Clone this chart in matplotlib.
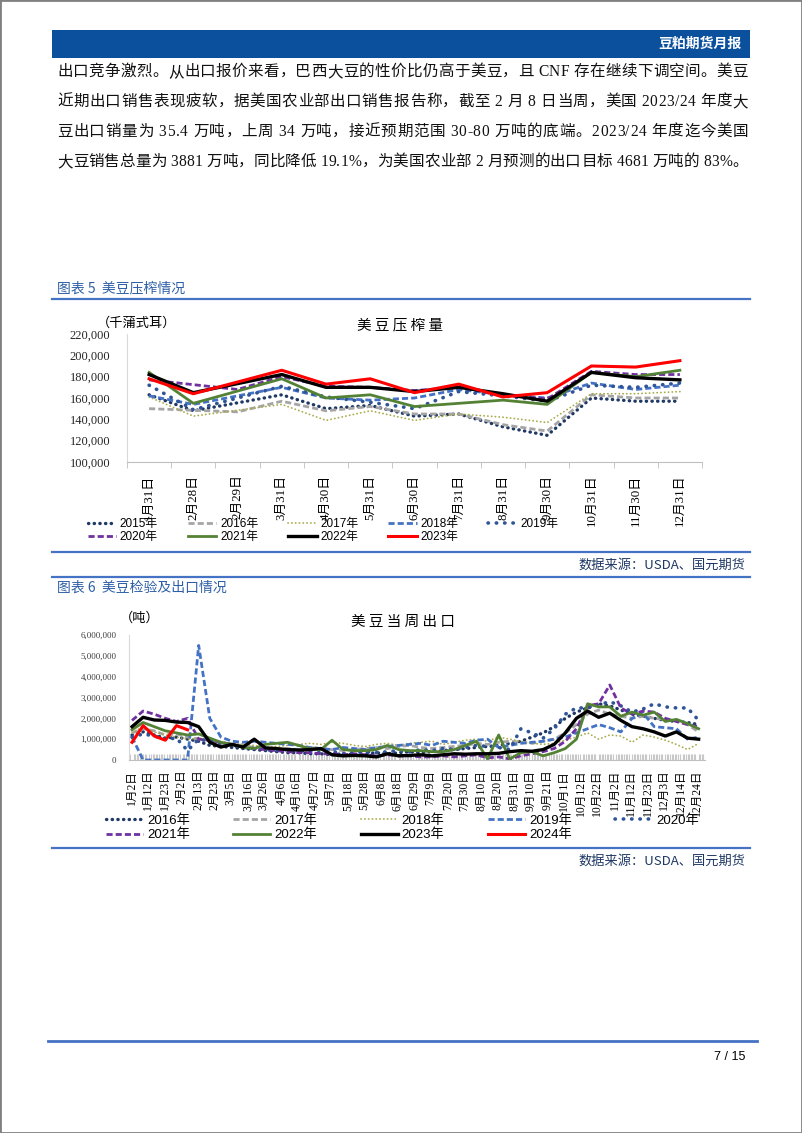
import numpy as np
import pandas as pd
import matplotlib
matplotlib.use('Agg')
import matplotlib.pyplot as plt
from matplotlib.patches import Rectangle
from matplotlib.lines import Line2D
from matplotlib.ticker import FuncFormatter

W, H = 802, 1133
SERIF = ['Liberation Serif', 'Noto Sans CJK SC']
SANS = ['Liberation Sans', 'Noto Sans CJK SC']
CJK = ['Noto Sans CJK SC', 'DejaVu Sans']

# ---------------------------------------------------------
# texte de la page
# ---------------------------------------------------------
body_lines = [
    "出口竞争激烈。从出口报价来看，巴西大豆的性价比仍高于美豆，且 CNF 存在继续下调空间。美豆",
    "近期出口销售表现疲软，据美国农业部出口销售报告称，截至 2 月 8 日当周，美国 2023/24 年度大",
    "豆出口销量为 35.4 万吨，上周 34 万吨，接近预期范围 30-80 万吨的底端。2023/24 年度迄今美国",
    "大豆销售总量为 3881 万吨，同比降低 19.1%，为美国农业部 2 月预测的出口目标 4681 万吨的 83%。",
]

# ---------------------------------------------------------
# graphique 5 : crush mensuel (千蒲式耳)
# ---------------------------------------------------------
crush_months = ['1月31日', '2月28日', '2月29日', '3月31日', '4月30日', '5月31日', '6月30日',
                '7月31日', '8月31日', '9月30日', '10月31日', '11月30日', '12月31日']
nan = np.nan
crush_2015 = [163000, 148000, nan, 163000, 150000, 153000, 143000, 145000, 133000, 125000, 160000, 157000, 157000]
crush_2016 = [150000, nan, 147000, 157000, 148000, 152000, 145000, 145000, 135000, 129000, 163000, 160000, 160000]
crush_2017 = [161000, 143000, nan, 154000, 139000, 148000, 139000, 145000, 142000, 137000, 164000, 164000, 166000]
crush_2018 = [162000, 154000, nan, 170000, 160000, 158000, 160000, 168000, 163000, 160000, 174000, 168000, 172000]
crush_2019 = [172000, 149000, nan, 171000, 161000, 156000, 150000, 166000, 162000, 157000, 172000, 170000, 174000]
crush_2020 = [177000, nan, 168000, 180000, 171000, 170000, 167000, 170000, 163000, 159000, 185000, 182000, 182000]
crush_2021 = [184000, 155000, nan, 178000, 160000, 163000, 152000, 155000, 158000, 154000, 184000, 180000, 186000]
crush_2022 = [182000, 165000, nan, 182000, 170000, 170000, 166000, 170000, 164000, 157000, 184000, 179000, 177000]
crush_2023 = [178000, 164000, nan, 186000, 173000, 178000, 165000, 173000, 161000, 165000, 190000, 189000, 195000]

# ---------------------------------------------------------
# graphique 6 : exportations hebdomadaires (百万吨)
# ---------------------------------------------------------
week_dates = pd.date_range('2023-01-02', periods=52, freq='7D')
export_ticks = ['1-2', '1-12', '1-23', '2-2', '2-13', '2-23', '3-5', '3-16', '3-26', '4-6', '4-16', '4-27',
                '5-7', '5-18', '5-28', '6-8', '6-18', '6-29', '7-9', '7-20', '7-30', '8-10', '8-20', '8-31',
                '9-10', '9-21', '10-1', '10-12', '10-22', '11-2', '11-12', '11-23', '12-3', '12-14', '12-24']
exp_2016 = [1.20, 1.35, 1.20, 1.05, 1.10, 1.00, 0.90, 0.70, 0.65, 0.60, 0.55, 0.50, 0.45, 0.40, 0.35, 0.35,
            0.30, 0.30, 0.25, 0.30, 0.25, 0.30, 0.35, 0.30, 0.35, 0.40, 0.35, 0.40, 0.45, 0.50, 0.55, 0.60,
            0.65, 0.70, 0.80, 0.90, 1.10, 1.30, 1.60, 2.00, 2.30, 2.50, 2.70, 2.60, 2.40, 2.20, 2.10, 2.00,
            1.90, 1.85, 1.80, 1.70]
exp_2017 = [1.30, 1.50, 1.40, 1.20, 1.25, 1.10, 1.00, 0.95, 0.80, 0.75, 0.70, 0.60, 0.55, 0.50, 0.55, 0.50,
            0.60, 0.55, 0.50, 0.45, 0.50, 0.55, 0.60, 0.55, 0.65, 0.70, 0.60, 0.55, 0.60, 0.65, 0.70, 0.80,
            0.75, 0.85, 0.90, 0.85, 0.80, 0.90, 1.00, 1.30, 1.70, 2.20, 2.40, 2.20, 2.10, 2.00, 2.10, 2.00,
            1.95, 1.90, 1.70, 1.35]
exp_2018 = [1.30, 1.60, 1.35, 1.20, 1.10, 1.00, 1.05, 0.95, 0.85, 0.80, 0.75, 0.70, 0.60, 0.65, 0.70, 0.75,
            0.80, 0.75, 0.85, 0.80, 0.70, 0.65, 0.75, 0.80, 0.70, 0.80, 0.85, 0.90, 0.75, 0.85, 0.95, 1.00,
            0.90, 1.10, 1.00, 0.90, 0.80, 0.75, 0.80, 0.95, 1.10, 1.30, 1.00, 1.20, 1.15, 0.85, 1.20, 1.10,
            0.95, 0.75, 0.50, 0.80]
exp_2019 = [1.10, 0.00, 0.00, 0.00, 0.00, 0.00, 5.50, 2.00, 1.10, 0.90, 0.85, 0.90, 0.85, 0.80, 0.75, 0.70,
            0.60, 0.55, 0.50, 0.60, 0.55, 0.50, 0.60, 0.65, 0.70, 0.75, 0.80, 0.70, 0.90, 0.85, 0.80, 0.95,
            1.00, 0.60, 0.70, 0.80, 0.85, 0.90, 1.00, 1.10, 1.30, 1.50, 1.70, 1.55, 1.35, 2.00, 2.25, 1.60,
            1.55, 1.50, 1.00, 1.10]
exp_2020 = [1.10, 1.25, 1.15, 1.00, 1.05, 0.45, 1.00, 0.90, 0.80, 0.70, 0.60, 0.55, 0.50, 0.45, 0.50, 0.45,
            0.40, 0.35, 0.40, 0.30, 0.35, 0.40, 0.35, 0.40, 0.45, 0.40, 0.50, 0.45, 0.55, 0.50, 0.60, 0.70,
            0.65, 0.60, 0.50, 1.50, 1.30, 1.05, 1.50, 2.20, 2.50, 2.50, 2.65, 2.80, 2.60, 2.30, 2.45, 2.70,
            2.55, 2.50, 2.50, 1.90]
exp_2021 = [1.90, 2.35, 2.20, 2.00, 1.85, 2.00, 1.00, 0.95, 0.85, 0.75, 0.60, 0.55, 0.50, 0.45, 0.40, 0.35,
            0.35, 0.30, 0.30, 0.25, 0.30, 0.25, 0.20, 0.25, 0.20, 0.20, 0.15, 0.15, 0.20, 0.15, 0.20, 0.25,
            0.10, 0.15, 0.05, 0.20, 0.30, 0.40, 0.55, 0.90, 1.50, 2.60, 2.70, 3.60, 2.50, 2.20, 2.35, 2.30,
            2.00, 1.85, 1.70, 1.60]
exp_2022 = [1.45, 1.80, 1.60, 1.40, 1.30, 1.20, 1.25, 1.05, 0.85, 0.75, 0.60, 0.55, 0.75, 0.80, 0.85, 0.70,
            0.55, 0.50, 0.95, 0.50, 0.45, 0.45, 0.50, 0.70, 0.50, 0.45, 0.45, 0.40, 0.40, 0.50, 0.70, 0.90,
            0.05, 1.20, 0.05, 0.35, 0.40, 0.20, 0.35, 0.55, 1.00, 2.70, 2.55, 2.55, 2.10, 2.30, 2.15, 2.30,
            1.85, 1.95, 1.75, 1.50]
exp_2023 = [1.60, 2.05, 1.92, 1.90, 1.82, 1.80, 1.60, 0.85, 0.62, 0.75, 0.62, 1.00, 0.58, 0.55, 0.50, 0.48,
            0.50, 0.55, 0.25, 0.20, 0.22, 0.20, 0.15, 0.30, 0.20, 0.22, 0.25, 0.20, 0.25, 0.30, 0.28, 0.30,
            0.30, 0.32, 0.40, 0.45, 0.42, 0.50, 0.75, 1.30, 2.00, 2.35, 2.05, 2.25, 1.90, 1.60, 1.50, 1.35,
            1.15, 1.35, 1.05, 1.00]
exp_2024 = [0.85, 1.65, 1.15, 0.95, 1.65, 1.45]

# styles par année
DOT = (0, (0.1, 1.6))
DASH = (0, (2.2, 1.1))
styles = {
    '2015': dict(color='#1F3864', lw=2.4, ls=DOT, dash_capstyle='round'),
    '2016': dict(color='#A5A5A5', lw=2.0, ls=DASH),
    '2017': dict(color='#A9AC4C', lw=1.3, ls=(0, (0.1, 2.0)), dash_capstyle='round'),
    '2018': dict(color='#4472C4', lw=2.0, ls=DASH),
    '2019': dict(color='#2F5597', lw=2.6, ls=(0, (0.1, 2.2)), dash_capstyle='round'),
    '2020': dict(color='#7030A0', lw=2.0, ls=DASH),
    '2021': dict(color='#548235', lw=2.0, ls='-'),
    '2022': dict(color='#000000', lw=2.4, ls='-'),
    '2023': dict(color='#FF0000', lw=2.2, ls='-'),
}
styles6 = {
    '2016': styles['2015'],
    '2017': styles['2016'],
    '2018': styles['2017'],
    '2019': styles['2018'],
    '2020': styles['2019'],
    '2021': styles['2020'],
    '2022': styles['2021'],
    '2023': styles['2022'],
    '2024': styles['2023'],
}

fig = plt.figure(figsize=(W / 100, H / 100), dpi=100)
renderer = fig.canvas.get_renderer()


def fx(x):
    return x / W


def fy(y):
    return 1 - y / H


def hline(y, x0, x1, color='#4472C4', lw=1.6):
    fig.add_artist(Line2D([fx(x0), fx(x1)], [fy(y), fy(y)], transform=fig.transFigure, color=color, lw=lw))


def put(x, y, s, **kw):
    kw.setdefault('va', 'center')
    return fig.text(fx(x), fy(y), s, **kw)


def text_width(s, **kw):
    t = fig.text(0, 0, s, **kw)
    w = t.get_window_extent(renderer=renderer).width
    t.remove()
    return w


def justify(y, s, x0, x1, **kw):
    # texte justifié comme dans Word : l'espace libre est réparti entre les caractères
    ref = text_width('xx', **kw)
    widths = [text_width('x' + ch + 'x', **kw) - ref for ch in s]
    gap = (x1 - x0 - sum(widths)) / (len(s) - 1)
    x = x0
    for ch, w in zip(s, widths):
        if ch != ' ':
            put(x, y, ch, ha='left', **kw)
        x += w + gap


# cadre + bandeau
fig.add_artist(Rectangle((0, 0), 1, 1, transform=fig.transFigure, fill=False, ec='#808080', lw=2))
fig.add_artist(Rectangle((fx(52), fy(58)), fx(750) - fx(52), 28 / H, transform=fig.transFigure,
                         fc='#0A509C', ec='none'))
put(742, 44, '豆粕期货月报', color='white', ha='right', fontsize=10, fontweight='bold', family=CJK)

for i, line in enumerate(body_lines):
    justify(72 + 30 * i, line, 57, 748, fontsize=11.2, family=SERIF, color='#111111')

# ---------------------------------------------------------
# 图表 5
# ---------------------------------------------------------
put(57, 288, '图表 5  美豆压榨情况', ha='left', fontsize=10, family=CJK, color='#2D5FA6')
hline(299, 52, 750)

ax1 = fig.add_axes([fx(127), fy(462), (702 - 127) / W, (462 - 334) / H])
x1 = np.arange(len(crush_months))
series5 = [('2015', crush_2015), ('2016', crush_2016), ('2017', crush_2017), ('2018', crush_2018),
           ('2019', crush_2019), ('2020', crush_2020), ('2021', crush_2021), ('2022', crush_2022),
           ('2023', crush_2023)]
h5 = []
for year, vals in series5:
    v = np.array(vals, dtype=float)
    m = ~np.isnan(v)
    ln, = ax1.plot(x1[m], v[m], label=year + '年', **styles[year])
    h5.append(ln)

ax1.set_xlim(-0.5, len(crush_months) - 0.5)
ax1.set_ylim(100000, 220000)
ax1.set_yticks(np.arange(100000, 220001, 20000))
ax1.yaxis.set_major_formatter(FuncFormatter(lambda v, p: f'{int(v):,}'))
ax1.set_xticks(x1)
ax1.set_xticklabels(crush_months, rotation=90, family=SERIF, fontsize=9.3)
ax1.set_xticks(np.arange(-0.5, len(crush_months), 1), minor=True)
ax1.tick_params(axis='x', which='major', length=0, pad=9)
ax1.tick_params(axis='x', which='minor', length=4, color='#BFBFBF')
ax1.tick_params(axis='y', length=0, pad=12, labelsize=9, labelcolor='#262626')
for t in ax1.get_yticklabels():
    t.set_family(SERIF)
for s in ['top', 'right']:
    ax1.spines[s].set_visible(False)
ax1.spines['left'].set_color('#D9D9D9')
ax1.spines['bottom'].set_color('#BFBFBF')

put(97, 323, '（千蒲式耳）', ha='left', fontsize=9.5, family=CJK)
put(400, 325, '美 豆 压 榨 量', ha='center', fontsize=10.5, family=CJK)

order5 = [0, 5, 1, 6, 2, 7, 3, 8, 4]
ax1.legend([h5[i] for i in order5], [h5[i].get_label() for i in order5], ncol=5, loc='upper left',
           bbox_to_anchor=(fx(88), fy(518)), bbox_transform=fig.transFigure, frameon=False,
           handlelength=2.4, handletextpad=0.3, columnspacing=2.55, borderpad=0, borderaxespad=0,
           labelspacing=0.08, prop={'family': SANS, 'size': 8.5})

hline(552, 52, 750)
put(745, 565, '数据来源：USDA、国元期货', ha='right', fontsize=9.5, family=CJK, color='#1F3864')
hline(577, 52, 750)

# ---------------------------------------------------------
# 图表 6
# ---------------------------------------------------------
put(57, 588, '图表 6  美豆检验及出口情况', ha='left', fontsize=10, family=CJK, color='#2D5FA6')

ax2 = fig.add_axes([fx(129), fy(760), 576 / W, 125 / H])
xd = week_dates.dayofyear.values - 1
series6 = [('2016', exp_2016), ('2017', exp_2017), ('2018', exp_2018), ('2019', exp_2019),
           ('2020', exp_2020), ('2021', exp_2021), ('2022', exp_2022), ('2023', exp_2023),
           ('2024', exp_2024)]
h6 = []
for year, vals in series6:
    v = np.array(vals) * 1e6
    ln, = ax2.plot(xd[:len(v)], v, label=year + '年', **styles6[year])
    h6.append(ln)

tick_days = [pd.Timestamp('2023-' + t).dayofyear - 1 for t in export_ticks]
tick_labels = [f"{t.split('-')[0]}月{t.split('-')[1]}日" for t in export_ticks]
ax2.set_xlim(-0.9, 362)
ax2.set_ylim(0, 6000000)
ax2.set_yticks(np.arange(0, 6000001, 1000000))
ax2.yaxis.set_major_formatter(FuncFormatter(lambda v, p: f'{int(v):,}'))
ax2.set_xticks(tick_days)
ax2.set_xticklabels(tick_labels, rotation=90, family=SERIF, fontsize=8.4)
ax2.set_xticks(np.arange(0, 362, 1), minor=True)
ax2.tick_params(axis='x', which='major', length=0, pad=7)
ax2.tick_params(axis='x', which='minor', direction='in', length=4, width=0.8, color='#C8C8C8')
ax2.tick_params(axis='y', length=0, pad=9, labelsize=6.5, labelcolor='#404040')
for t in ax2.get_yticklabels():
    t.set_family(SERIF)
for s in ['top', 'right']:
    ax2.spines[s].set_visible(False)
ax2.spines['left'].set_color('#D9D9D9')
ax2.spines['bottom'].set_color('#BFBFBF')

put(120, 618, '（吨）', ha='left', fontsize=9.5, family=CJK)
put(403, 622, '美 豆 当 周 出 口', ha='center', fontsize=10.5, family=CJK)

ax2.legend([h6[i] for i in order5], [h6[i].get_label() for i in order5], ncol=5, loc='upper left',
           bbox_to_anchor=(fx(106), fy(814.5)), bbox_transform=fig.transFigure, frameon=False,
           handlelength=2.8, handletextpad=0.3, columnspacing=3.3, borderpad=0, borderaxespad=0,
           labelspacing=0.12, prop={'family': SANS, 'size': 9.5})

hline(848, 52, 750)
put(745, 861, '数据来源：USDA、国元期货', ha='right', fontsize=9.5, family=CJK, color='#1F3864')

# pied de page
hline(1041, 48, 757, lw=2)
put(745, 1057, '7 / 15', ha='right', fontsize=9, family=SANS)

fig.savefig('out.png', dpi=100)
